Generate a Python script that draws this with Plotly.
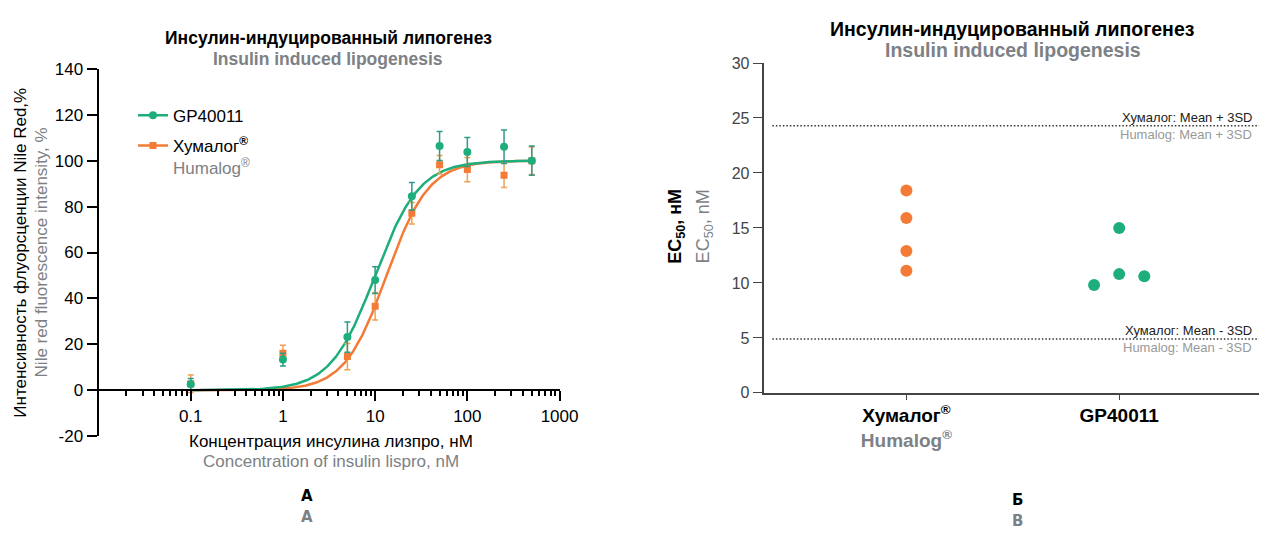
import numpy as np
import plotly.graph_objects as go

# ---------------- data ----------------
conc_nM = [0.1, 1, 5, 10, 25, 50, 100, 250, 500]
gp40011_resp = [2.7, 13.4, 23.2, 48.0, 84.5, 106.4, 103.8, 106.1, 100.0]
gp40011_err = [2.5, 2.8, 6.6, 5.8, 6.0, 6.3, 6.3, 7.3, 6.4]
humalog_resp = [2.9, 16.2, 14.7, 36.6, 77.1, 98.2, 96.1, 93.6, 100.0]
humalog_err = [3.8, 3.4, 5.7, 6.0, 4.7, 4.0, 5.3, 5.3, 6.0]

# 4-parameter logistic fit parameters (bottom, top, EC50, Hill)
gp40011_fit = [0.0, 100.0, 10.0, 1.8]
humalog_fit = [0.0, 100.0, 13.3, 1.9]

ec50_categories = ["Хумалог", "GP40011"]
humalog_ec50 = [18.4, 15.9, 12.9, 11.1]
gp40011_ec50 = [15.0, 9.8, 10.8, 10.6]
mean_plus_3sd = 24.3
mean_minus_3sd = 4.9

x_ticks = [0.1, 1, 10, 100, 1000]
x_ticktext = ["0.1", "1", "10", "100", "1000"]
y_ticks = [-20, 0, 20, 40, 60, 80, 100, 120, 140]

# ---------------- style ----------------
W, H = 1278, 535
GREEN = "#1EAE7C"
GREEN_ERR = "#2C9C88"
ORANGE = "#F37B37"
ORANGE_ERR = "#F0A050"
GRAY = "#7D8185"
FONT = "Liberation Sans, Arial, sans-serif"


def fx(px):
    return px / W


def fy(py):
    return 1 - py / H


def four_pl(x, p):
    b, t, ec, h = p
    return b + (t - b) / (1 + (ec / x) ** h)


curve_x = np.logspace(np.log10(conc_nM[0]), np.log10(conc_nM[-1]), 300)

fig = go.Figure()

# fitted curves
fig.add_trace(go.Scatter(x=curve_x, y=four_pl(curve_x, humalog_fit), mode="lines",
                         line=dict(color=ORANGE, width=2.5), showlegend=False,
                         xaxis="x", yaxis="y", hoverinfo="skip"))
fig.add_trace(go.Scatter(x=curve_x, y=four_pl(curve_x, gp40011_fit), mode="lines",
                         line=dict(color=GREEN, width=2.5), showlegend=False,
                         xaxis="x", yaxis="y", hoverinfo="skip"))
# points
fig.add_trace(go.Scatter(x=conc_nM, y=humalog_resp, mode="markers",
                         marker=dict(symbol="square", size=7, color=ORANGE),
                         error_y=dict(type="data", array=humalog_err, color=ORANGE_ERR,
                                      thickness=1.5, width=3),
                         showlegend=False, xaxis="x", yaxis="y"))
fig.add_trace(go.Scatter(x=conc_nM, y=gp40011_resp, mode="markers",
                         marker=dict(symbol="circle", size=8, color=GREEN),
                         error_y=dict(type="data", array=gp40011_err, color=GREEN_ERR,
                                      thickness=1.5, width=3),
                         showlegend=False, xaxis="x", yaxis="y"))
# legend entries
fig.add_trace(go.Scatter(x=[None], y=[None], mode="lines+markers", name="GP40011",
                         line=dict(color=GREEN, width=2.5),
                         marker=dict(symbol="circle", size=8, color=GREEN),
                         xaxis="x", yaxis="y", legendrank=1, legendgroup="g1"))
fig.add_trace(go.Scatter(x=[None], y=[None], mode="lines+markers",
                         name="Хумалог<sup><b>®</b></sup><br><span style='color:%s'>Humalog<sup>®</sup></span>" % GRAY,
                         line=dict(color=ORANGE, width=2.5),
                         marker=dict(symbol="square", size=7, color=ORANGE),
                         xaxis="x", yaxis="y", legendrank=2, legendgroup="g2"))

# right panel points
hum_offsets = [0, 0, 0, 0]
gp_offsets = [0, -0.118, 0, 0.118]
fig.add_trace(go.Scatter(x=[0 + o for o in hum_offsets], y=humalog_ec50, mode="markers",
                         marker=dict(size=12, color=ORANGE), showlegend=False,
                         xaxis="x2", yaxis="y2"))
fig.add_trace(go.Scatter(x=[1 + o for o in gp_offsets], y=gp40011_ec50, mode="markers",
                         marker=dict(size=12, color=GREEN), showlegend=False,
                         xaxis="x2", yaxis="y2"))

# ---------------- axes ----------------
y_dom = [fy(443), fy(62)]
y_rng = [-20, 140]
x_pos = y_dom[0] + (0 - y_rng[0]) / (y_rng[1] - y_rng[0]) * (y_dom[1] - y_dom[0])

minor_vals = [m * 10.0 ** d for d in range(-2, 3) for m in range(2, 10)]

fig.update_layout(
    width=W, height=H,
    margin=dict(l=0, r=0, t=0, b=0),
    paper_bgcolor="white", plot_bgcolor="white",
    font=dict(family=FONT, size=17, color="black"),
    xaxis=dict(type="log", domain=[fx(100), fx(568)], range=[-2, 3],
               anchor="free", position=x_pos,
               showline=True, linecolor="black", linewidth=2,
               ticks="outside", ticklen=10, tickwidth=2, tickcolor="black",
               tickvals=x_ticks, ticktext=x_ticktext,
               minor=dict(ticks="outside", ticklen=5, tickwidth=2, tickcolor="black",
                          tickvals=minor_vals, showgrid=False),
               showgrid=False, zeroline=False, tickfont=dict(size=17)),
    yaxis=dict(domain=y_dom, range=y_rng, anchor="x",
               showline=True, linecolor="black", linewidth=2,
               ticks="outside", ticklen=10, tickwidth=2, tickcolor="black",
               tickvals=y_ticks, ticktext=[str(v) for v in y_ticks],
               showgrid=False, zeroline=False, tickfont=dict(size=17)),
    xaxis2=dict(domain=[fx(776), 1], range=[-0.667, 1.657], anchor="y2",
                showline=True, linecolor="#444", linewidth=1.5,
                ticks="outside", ticklen=5, tickwidth=1.2, tickcolor="#444",
                tickvals=[0, 1],
                ticktext=["<b>Хумалог<sup>®</sup></b><br><span style='color:%s'><b>Humalog<sup>®</sup></b></span>" % GRAY,
                          "<b>GP40011</b>"],
                showgrid=False, zeroline=False, tickfont=dict(size=19, color="black")),
    yaxis2=dict(domain=[fy(398), fy(56)], range=[0, 30], anchor="x2",
                showline=True, linecolor="#444", linewidth=1.5,
                ticks="outside", ticklen=10, tickwidth=1.2, tickcolor="#444",
                dtick=5, showgrid=False, zeroline=False,
                tickfont=dict(size=16, color="#444")),
    legend=dict(x=fx(135), y=fy(92), xanchor="left", yanchor="top",
                bgcolor="rgba(0,0,0,0)", font=dict(size=17), valign="top",
                tracegroupgap=5),
    showlegend=True,
)

# reference lines on the right panel
for val, ru, en in [(mean_plus_3sd, "Хумалог: Mean + 3SD", "Humalog: Mean + 3SD"),
                    (mean_minus_3sd, "Хумалог: Mean - 3SD", "Humalog: Mean - 3SD")]:
    fig.add_shape(type="line", xref="paper", yref="y2", x0=fx(784), x1=1, y0=val, y1=val,
                  line=dict(color="#333", width=1.6, dash="1.5px,2px"))
    fig.add_annotation(xref="paper", yref="y2", x=fx(1273), y=val, text=ru,
                       xanchor="right", yanchor="bottom", showarrow=False,
                       font=dict(size=13, color="#222"), yshift=-1)
    fig.add_annotation(xref="paper", yref="y2", x=fx(1273), y=val, text=en,
                       xanchor="right", yanchor="top", showarrow=False,
                       font=dict(size=13, color="#999"), yshift=1)


def ann(x, y, text, size, color="black", angle=0, family=FONT):
    fig.add_annotation(xref="paper", yref="paper", x=fx(x), y=fy(y), text=text,
                       showarrow=False, xanchor="center", yanchor="middle",
                       textangle=angle, font=dict(size=size, color=color, family=family))


# titles
ann(333, 30, "<b>Инсулин-индуцированный липогенез</b>", 17.5)
ann(333, 52, "<b>Insulin induced lipogenesis</b>", 17.5, GRAY)
ann(1028, 21, "<b>Инсулин-индуцированный липогенез</b>", 19.5)
ann(1028, 43, "<b>Insulin induced lipogenesis</b>", 19.5, GRAY)

# axis titles left
ann(336, 448, "Концентрация инсулина лизпро, нМ", 17)
ann(336, 469, "Concentration of insulin lispro, nM", 17, GRAY)
ann(20, 253, "Интенсивность флуорсценции Nile Red,%", 17, angle=-90)
ann(42, 252, "Nile red fluorescence intensity, %", 17, GRAY, angle=-90)

# axis titles right
ann(686, 225, "<b>EC<sub>50</sub>, нМ</b>", 18, angle=-90)
ann(715, 225, "EC<sub>50</sub>, nM", 18, GRAY, angle=-90)

# panel letters
ann(312, 505, "<b>А</b>", 15, family="DejaVu Sans")
ann(312, 527, "<b>А</b>", 15, GRAY, family="DejaVu Sans")
ann(1033, 509, "<b>Б</b>", 15, family="DejaVu Sans")
ann(1033, 531, "<b>В</b>", 15, GRAY, family="DejaVu Sans")

fig.write_html("out.html")
